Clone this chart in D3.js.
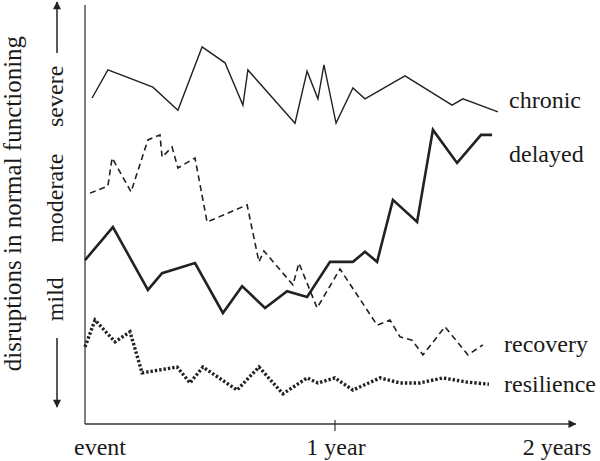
<!DOCTYPE html>
<html>
<head>
<meta charset="utf-8">
<script src="https://cdn.jsdelivr.net/npm/d3@7"></script>
<style>
  body { margin: 0; background: #fff; }
  text { font-family: "Liberation Serif", "Times New Roman", serif; fill: #1a1a1a; }
</style>
</head>
<body>
<script>
// chart size
const w = 600;
const h = 461;

// data: months after the event, and disruption level (0 = none, 100 = top of axis)
const chronicMonths = [0.34, 1.1, 3.26, 4.46, 5.62, 6.72, 7.58, 7.82, 10.08, 10.66, 11.18, 11.47, 12.05, 12.86, 13.44, 15.36, 17.62, 18.14, 19.82];
const chronicLevel = [77.8, 84.5, 80.4, 74.9, 90.0, 86.2, 76.1, 84.5, 71.8, 84.2, 77.6, 85.7, 71.8, 80.2, 77.6, 83.1, 76.1, 77.6, 74.5];

const delayedMonths = [0, 1.34, 3.02, 3.7, 5.28, 6.62, 7.54, 8.64, 9.7, 10.66, 11.76, 12.86, 13.44, 14.02, 14.78, 15.94, 16.7, 17.86, 19.01, 19.54];
const delayedLevel = [39.1, 47.0, 32.0, 36.0, 38.4, 26.5, 32.9, 27.7, 31.7, 30.3, 38.7, 38.7, 41.1, 38.7, 53.5, 48.2, 70.2, 62.3, 69.0, 69.0];

const recoveryMonths = [0.24, 1.1, 1.3, 2.21, 3.02, 3.6, 3.7, 4.18, 4.46, 5.28, 5.86, 7.78, 8.35, 8.59, 9.98, 10.27, 11.14, 12.24, 14.02, 14.64, 15.12, 15.7, 16.22, 17.28, 18.38, 19.1];
const recoveryLevel = [55.1, 56.8, 63.5, 55.4, 67.8, 69.0, 63.7, 66.1, 61.1, 63.5, 48.2, 52.3, 38.7, 41.3, 33.2, 38.4, 27.7, 37.0, 23.6, 24.8, 20.8, 20.0, 16.5, 23.2, 16.5, 18.9];

const resilienceMonths = [0, 0.48, 1.44, 2.16, 2.74, 4.42, 5.04, 5.66, 7.3, 8.35, 9.5, 10.66, 11.18, 12.0, 12.86, 14.16, 15.12, 16.08, 17.18, 18.34, 19.39];
const resilienceLevel = [18.4, 24.8, 19.6, 22.0, 12.2, 13.6, 9.8, 13.6, 8.1, 13.6, 7.2, 11.0, 9.8, 11.0, 8.1, 11.0, 9.8, 9.8, 11.0, 10.0, 9.5];

const seriesNames = ["chronic", "delayed", "recovery", "resilience"];

// x axis labels
const tickMonths = [0, 12, 24];
const tickLabels = ["event", "1 year", "2 years"];

// y axis severity labels
const levelNames = ["mild", "moderate", "severe"];
const levelCenters = [29.8, 53.9, 78.2];
const yTitle = "disruptions in normal functioning";

// scales
const x = d3.scaleLinear().domain([0, 12]).range([85, 335]);
const y = d3.scaleLinear().domain([0, 100]).range([424, 5]);

const svg = d3.select("body").append("svg")
    .attr("width", w)
    .attr("height", h);

// arrow marker
svg.append("defs").append("marker")
    .attr("id", "arrow")
    .attr("viewBox", "0 0 10 10")
    .attr("refX", 9)
    .attr("refY", 5)
    .attr("markerWidth", 10)
    .attr("markerHeight", 8)
    .attr("markerUnits", "userSpaceOnUse")
    .attr("orient", "auto")
    .append("path")
    .attr("d", "M0,0 L10,5 L0,10 Z")
    .attr("fill", "#222");

// y axis (plain line)
svg.append("line")
    .attr("x1", x(0)).attr("x2", x(0))
    .attr("y1", y(100)).attr("y2", y(0))
    .attr("stroke", "#555")
    .attr("stroke-width", 1.5);

// x axis with the one year tick
svg.append("line")
    .attr("x1", x(0)).attr("x2", x(23.55))
    .attr("y1", y(0)).attr("y2", y(0))
    .attr("stroke", "#333")
    .attr("stroke-width", 1.5)
    .attr("marker-end", "url(#arrow)");

svg.append("line")
    .attr("x1", x(12)).attr("x2", x(12))
    .attr("y1", y(0) - 4).attr("y2", y(0) + 7)
    .attr("stroke", "#333")
    .attr("stroke-width", 1.2);

// x tick labels
const labelShift = [15, 1, -28];
svg.selectAll(".xlabel")
    .data(tickMonths)
    .enter()
    .append("text")
    .attr("class", "xlabel")
    .attr("x", (d, i) => x(d) + labelShift[i])
    .attr("y", 455)
    .attr("text-anchor", "middle")
    .attr("font-size", 24)
    .text((d, i) => tickLabels[i]);

// y level labels (rotated)
svg.selectAll(".ylevel")
    .data(levelCenters)
    .enter()
    .append("text")
    .attr("class", "ylevel")
    .attr("transform", d => `translate(63,${y(d)}) rotate(-90)`)
    .attr("text-anchor", "middle")
    .attr("font-size", 24)
    .text((d, i) => levelNames[i]);

// y title
svg.append("text")
    .attr("transform", `translate(21,${y(52.6)}) rotate(-90)`)
    .attr("text-anchor", "middle")
    .attr("font-size", 25)
    .text(yTitle);

// direction arrows beside the level labels
svg.append("line")
    .attr("x1", 57).attr("x2", 57)
    .attr("y1", 53).attr("y2", 2)
    .attr("stroke", "#222").attr("stroke-width", 1.5)
    .attr("marker-end", "url(#arrow)");
svg.append("line")
    .attr("x1", 57).attr("x2", 57)
    .attr("y1", 338).attr("y2", 407)
    .attr("stroke", "#222").attr("stroke-width", 1.5)
    .attr("marker-end", "url(#arrow)");

// lines
const line = d3.line()
    .x(d => x(d[0]))
    .y(d => y(d[1]));

const series = [
    { months: chronicMonths, level: chronicLevel, width: 1.4, dash: null },
    { months: delayedMonths, level: delayedLevel, width: 2.6, dash: null },
    { months: recoveryMonths, level: recoveryLevel, width: 1.6, dash: "6,4" },
    { months: resilienceMonths, level: resilienceLevel, width: 3.4, dash: "2.4,2" }
];

series.forEach(s => {
    const pts = s.months.map((m, i) => [m, s.level[i]]);
    svg.append("path")
        .datum(pts)
        .attr("d", line)
        .attr("fill", "none")
        .attr("stroke", "#222")
        .attr("stroke-width", s.width)
        .attr("stroke-linejoin", "miter")
        .attr("stroke-dasharray", s.dash);
});

// series labels
const nameY = [108, 162, 352, 392];
const nameX = [509, 509, 504, 504];
svg.selectAll(".sname")
    .data(seriesNames)
    .enter()
    .append("text")
    .attr("class", "sname")
    .attr("x", (d, i) => nameX[i])
    .attr("y", (d, i) => nameY[i])
    .attr("font-size", 24)
    .text(d => d);
</script>
</body>
</html>
